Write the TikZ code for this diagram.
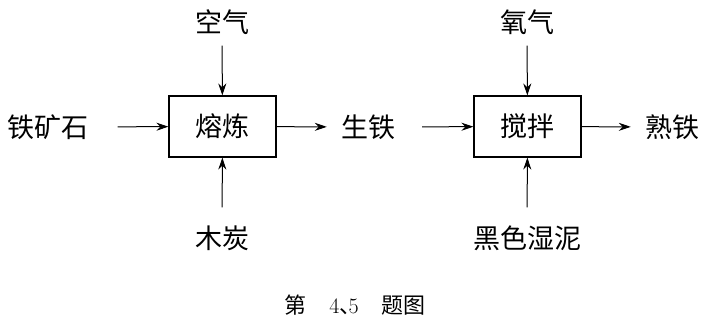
\documentclass[tikz,border=0pt]{standalone}
\usepackage{fontspec}
\usepackage{tikz}
\usetikzlibrary{arrows.meta}
\newfontfamily\cjk{Noto Sans CJK SC}

\begin{document}
\begin{tikzpicture}[
  x=1pt, y=-1pt,
  proc/.style={rectangle, draw, line width=1.1pt, minimum width=107pt, minimum height=61pt, inner sep=0pt, font=\cjk\fontsize{27}{30}\selectfont},
  lbl/.style={inner sep=0pt, text height=24pt, text depth=3pt, font=\cjk\fontsize{27}{30}\selectfont},
  arrow/.style={-{Stealth[length=12pt,width=8pt]}, line width=1pt}
]
\useasboundingbox (0,0) rectangle (709,327);

% Smelting stage
\node[proc] (smelt) at (222.5,126.5) {熔炼};
\node[lbl] (air) at (222,22) {空气};
\node[lbl] (ore) at (48,127) {铁矿石};
\node[lbl] (coal) at (222,238) {木炭};
\node[lbl] (pig) at (368,127) {生铁};

% Stirring stage
\node[proc] (stir) at (527.5,126.5) {搅拌};
\node[lbl] (oxy) at (527,22) {氧气};
\node[lbl] (mud) at (527,238) {黑色湿泥};
\node[lbl] (wrought) at (672,127) {熟铁};

% Caption
\node[inner sep=0pt, font=\cjk\fontsize{22}{26}\selectfont] (cap) at (355,305)
  {第\hspace{23pt}\textrm{4}、\kern-13pt\textrm{5}\hspace{23pt}题图};

% Arrows
\draw[arrow, shorten <=10pt] (air) -- (smelt);
\draw[arrow, shorten <=29pt] (ore) -- (smelt);
\draw[arrow, shorten <=17pt] (coal) -- (smelt);
\draw[arrow, shorten >=14pt] (smelt) -- (pig);
\draw[arrow, shorten <=27pt] (pig) -- (stir);
\draw[arrow, shorten <=10pt] (oxy) -- (stir);
\draw[arrow, shorten <=17pt] (mud) -- (stir);
\draw[arrow, shorten >=14pt] (stir) -- (wrought);

\end{tikzpicture}
\end{document}
